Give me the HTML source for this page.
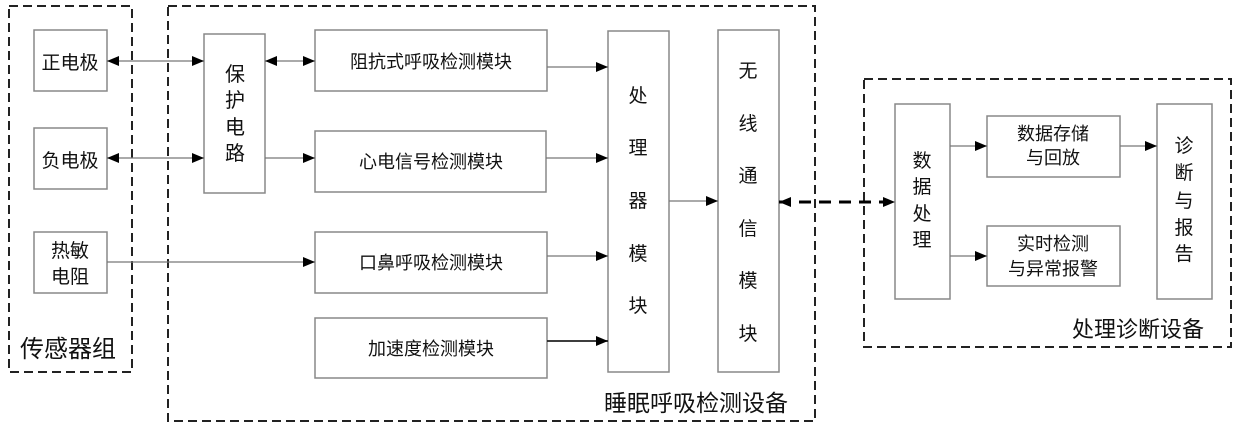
<!DOCTYPE html>
<html><head><meta charset="utf-8"><style>
html,body{margin:0;padding:0;background:#fff;}
svg{display:block;}
text{font-family:"Liberation Sans","Noto Sans CJK SC","WenQuanYi Zen Hei",sans-serif;fill:#111;}
.b{fill:#fff;stroke:#888;stroke-width:1.5;}
.d{fill:none;stroke:#222;stroke-width:2;stroke-dasharray:9,5;}
.l{stroke:#777;stroke-width:1.3;fill:none;}
</style></head><body>
<svg width="1240" height="433" viewBox="0 0 1240 433" xmlns="http://www.w3.org/2000/svg">
<defs>
<marker id="a" markerWidth="12" markerHeight="10" refX="12" refY="5" orient="auto" markerUnits="userSpaceOnUse"><path d="M0,0 L12,5 L0,10 z" fill="#000"/></marker>
<marker id="s" markerWidth="12" markerHeight="10" refX="0" refY="5" orient="auto" markerUnits="userSpaceOnUse"><path d="M12,0 L0,5 L12,10 z" fill="#000"/></marker>
</defs>
<!-- dashed groups -->
<rect class="d" x="9" y="6" width="123" height="366"/>
<rect class="d" x="168" y="6" width="647" height="415"/>
<rect class="d" x="864" y="79" width="367" height="268"/>
<text x="20" y="357" font-size="24">传感器组</text>
<text x="604" y="411" font-size="23">睡眠呼吸检测设备</text>
<text x="1072" y="337" font-size="22">处理诊断设备</text>
<!-- boxes -->
<rect class="b" x="34" y="30" width="73" height="61"/>
<text x="70" y="69" font-size="19" text-anchor="middle">正电极</text>
<rect class="b" x="34" y="128" width="73" height="61"/>
<text x="70" y="167" font-size="19" text-anchor="middle">负电极</text>
<rect class="b" x="34" y="232" width="73" height="61"/>
<text x="70" y="257" font-size="19" text-anchor="middle">热敏</text>
<text x="70" y="283" font-size="19" text-anchor="middle">电阻</text>
<rect class="b" x="204" y="34" width="61" height="159"/>
<g font-size="20" text-anchor="middle"><text x="235" y="81">保</text><text x="235" y="107">护</text><text x="235" y="134">电</text><text x="235" y="160">路</text></g>
<rect class="b" x="315" y="30" width="232" height="61"/>
<text x="431" y="68" font-size="18" text-anchor="middle">阻抗式呼吸检测模块</text>
<rect class="b" x="315" y="131" width="231" height="61"/>
<text x="431" y="168" font-size="18" text-anchor="middle">心电信号检测模块</text>
<rect class="b" x="315" y="232" width="232" height="61"/>
<text x="431" y="269" font-size="18" text-anchor="middle">口鼻呼吸检测模块</text>
<rect class="b" x="315" y="318" width="232" height="60"/>
<text x="431" y="355" font-size="18" text-anchor="middle">加速度检测模块</text>
<rect class="b" x="608" y="31" width="61" height="341"/>
<g font-size="19" text-anchor="middle"><text x="638" y="102">处</text><text x="638" y="154">理</text><text x="638" y="207">器</text><text x="638" y="260">模</text><text x="638" y="312">块</text></g>
<rect class="b" x="718" y="30" width="61" height="342"/>
<g font-size="19" text-anchor="middle"><text x="748" y="77">无</text><text x="748" y="130">线</text><text x="748" y="182">通</text><text x="748" y="235">信</text><text x="748" y="287">模</text><text x="748" y="340">块</text></g>
<rect class="b" x="895" y="104" width="55" height="195"/>
<g font-size="19" text-anchor="middle"><text x="922" y="167">数</text><text x="922" y="193">据</text><text x="922" y="220">处</text><text x="922" y="246">理</text></g>
<rect class="b" x="987" y="116" width="133" height="61"/>
<text x="1053" y="140" font-size="18" text-anchor="middle">数据存储</text>
<text x="1053" y="164" font-size="18" text-anchor="middle">与回放</text>
<rect class="b" x="987" y="226" width="133" height="60"/>
<text x="1053" y="250" font-size="18" text-anchor="middle">实时检测</text>
<text x="1053" y="275" font-size="18" text-anchor="middle">与异常报警</text>
<rect class="b" x="1157" y="104" width="55" height="195"/>
<g font-size="19" text-anchor="middle"><text x="1184" y="152">诊</text><text x="1184" y="179">断</text><text x="1184" y="207">与</text><text x="1184" y="234">报</text><text x="1184" y="260">告</text></g>
<!-- connectors -->
<line class="l" x1="107" y1="61" x2="204" y2="61" marker-start="url(#s)" marker-end="url(#a)"/>
<line class="l" x1="107" y1="158" x2="204" y2="158" marker-start="url(#s)" marker-end="url(#a)"/>
<line class="l" x1="265" y1="61" x2="315" y2="61" marker-start="url(#s)" marker-end="url(#a)"/>
<line class="l" x1="265" y1="158" x2="315" y2="158" marker-end="url(#a)"/>
<line class="l" x1="107" y1="262" x2="315" y2="262" marker-end="url(#a)"/>
<line class="l" x1="547" y1="67" x2="608" y2="67" marker-end="url(#a)"/>
<line class="l" x1="546" y1="158" x2="608" y2="158" marker-end="url(#a)"/>
<line class="l" x1="547" y1="256" x2="608" y2="256" marker-end="url(#a)"/>
<line class="l" x1="547" y1="341" x2="608" y2="341" marker-end="url(#a)" style="stroke:#222;stroke-width:1.8"/>
<line class="l" x1="669" y1="201" x2="718" y2="201" marker-end="url(#a)"/>
<line x1="779" y1="202" x2="895" y2="202" stroke="#000" stroke-width="3" stroke-dasharray="12,8" marker-start="url(#s)" marker-end="url(#a)"/>
<line class="l" x1="950" y1="146" x2="987" y2="146" marker-end="url(#a)"/>
<line class="l" x1="950" y1="256" x2="987" y2="256" marker-end="url(#a)"/>
<line class="l" x1="1120" y1="146" x2="1157" y2="146" marker-end="url(#a)"/>
</svg>
</body></html>
